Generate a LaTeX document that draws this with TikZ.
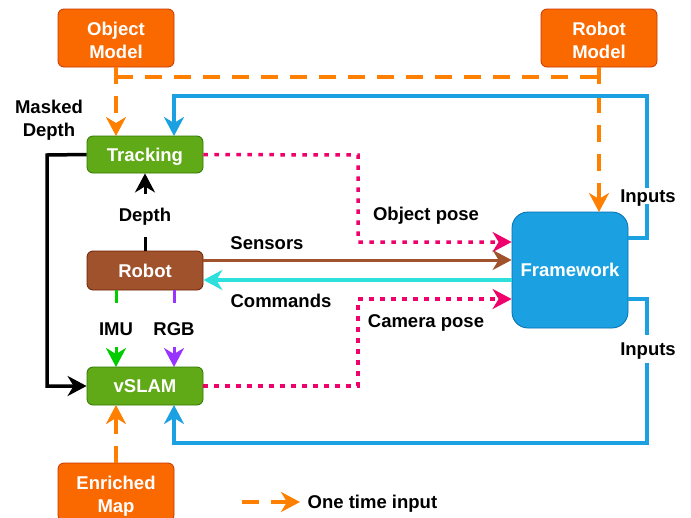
\documentclass[tikz,border=0pt]{standalone}
\usepackage{fontspec}
\setmainfont{Liberation Sans}
\usetikzlibrary{arrows.meta}
\definecolor{orfill}{HTML}{FA6800}
\definecolor{ordraw}{HTML}{C73500}
\definecolor{grfill}{HTML}{60A917}
\definecolor{grdraw}{HTML}{2D7600}
\definecolor{brfill}{HTML}{A0522D}
\definecolor{brdraw}{HTML}{6D1F00}
\definecolor{blfill}{HTML}{1BA1E2}
\definecolor{bldraw}{HTML}{006EAF}
\definecolor{oredge}{HTML}{FF8000}
\definecolor{pkedge}{HTML}{F0006B}
\definecolor{cyedge}{HTML}{2EE0DC}
\definecolor{gnedge}{HTML}{00CC00}
\definecolor{puedge}{HTML}{9933FF}
\begin{document}
\begin{tikzpicture}[x=1pt,y=-1pt,
  box/.style={draw, line width=0.8pt, rounded corners=6pt, minimum width=116pt,
    text=white, font=\fontsize{18.5}{23}\selectfont\bfseries, align=center, inner sep=0pt, text depth=0pt},
  orbox/.style={box, fill=orfill, draw=ordraw, minimum height=58pt, text height=40.5pt},
  grbox/.style={box, fill=grfill, draw=grdraw, minimum height=38pt},
  brbox/.style={box, fill=brfill, draw=brdraw, minimum height=39pt},
  lbl/.style={font=\fontsize{18.5}{23}\selectfont\bfseries, text=black, align=center, inner sep=1.5pt, text depth=0pt},
  wlbl/.style={lbl, fill=white},
  tipA/.tip={Stealth[length=19pt,width=20pt,inset=6pt]},
  edge/.style={line width=3.5pt, -tipA},
  oedge/.style={edge, draw=oredge, dash pattern=on 17pt off 12pt},
  bedge/.style={edge, draw=blfill},
  pedge/.style={edge, draw=pkedge, dash pattern=on 4.5pt off 6.5pt},
]
\useasboundingbox (0,0) rectangle (691,517);

% nodes
\node[orbox] (om) at (116,38) {Object\\Model};
\node[orbox] (rm) at (599,38) {Robot\\Model};
\node[grbox, minimum height=37pt] (tr) at (145,154.5) {Tracking};
\node[brbox] (rb) at (145,270.5) {Robot};
\node[grbox] (vs) at (145,386) {vSLAM};
\node[orbox] (em) at (116,492) {Enriched\\Map};
\node[box, fill=blfill, draw=bldraw, minimum width=116pt, minimum height=116pt, rounded corners=16pt] (fw) at (570,270) {Framework};

% helper coordinates
\coordinate (oj) at (116,77);
\coordinate (rj) at (599,77);
\coordinate (trTopL) at (116,136);
\coordinate (trTopR) at (174,136);
\coordinate (fwTop) at (599,212);
\coordinate (b1) at (647,238);
\coordinate (b2) at (647,96);
\coordinate (b3) at (174,96);
\coordinate (b4) at (647,299);
\coordinate (b5) at (647,443);
\coordinate (b6) at (174,443);
\coordinate (vsBotR) at (174,405);
\coordinate (vsBotL) at (116,405);
\coordinate (p1) at (358,155);
\coordinate (p2) at (358,242);
\coordinate (p3) at (358,386);
\coordinate (p4) at (358,299);
\coordinate (k1) at (47,155);
\coordinate (k2) at (47,386);
\coordinate (rbBotL) at (116,290);
\coordinate (rbBotR) at (174,290);
\coordinate (vsTopL) at (116,367);
\coordinate (vsTopR) at (174,367);
\coordinate (l1) at (242,502);
\coordinate (l2) at (300,502);

% orange one-time inputs
\draw[oedge,-] (oj) -- (rj);
\draw[oedge] (om.south) -- (trTopL);
\draw[oedge] (rm.south) -- (fwTop);
\draw[oedge] (em.north) -- (vsBotL);

% blue inputs
\draw[bedge] (fw.east |- b1) -- (b1) -- (b2) -- (b3) -- (trTopR);
\draw[bedge] (fw.east |- b4) -- (b4) -- (b5) -- (b6) -- (vsBotR);

% pink poses
\draw[pedge] (tr.east) -- (p1) -- (p2) -- (fw.west |- p2);
\draw[pedge] (vs.east) -- (p3) -- (p4) -- (fw.west |- p4);

% sensors / commands
\draw[edge, draw=brfill, line width=3pt] (rb.east |- 0,260) -- (fw.west |- 0,260);
\draw[edge, draw=cyedge] (fw.west |- 0,280) -- (rb.east |- 0,280);

% masked depth
\draw[edge, draw=black] (tr.west) -- (k1) -- (k2) -- (vs.west);
% depth
\draw[edge, draw=black, line width=3pt] (rb.north) -- (tr.south);
% IMU / RGB
\draw[edge, draw=gnedge, line width=3pt] (rbBotL) -- (vsTopL);
\draw[edge, draw=puedge, line width=3pt] (rbBotR) -- (vsTopR);

% labels
\node[lbl] (lmd) at (49,118) {Masked\\Depth};
\node[wlbl, minimum height=43pt] (ldp) at (145,215) {Depth};
\node[wlbl, minimum height=44pt, text height=21pt] (limu) at (116,325) {IMU};
\node[wlbl, minimum height=44pt, text height=21pt] (lrgb) at (174,325) {RGB};
\node[lbl] (lop) at (426,214) {Object pose};
\node[lbl] (lcp) at (426,321) {Camera pose};
\node[lbl] (lse) at (267,243) {Sensors};
\node[lbl] (lco) at (281,301) {Commands};
\node[wlbl] (lin1) at (648,196) {Inputs};
\node[wlbl, minimum height=28pt] (lin2) at (648,349) {Inputs};

% legend
\draw[oedge] (l1) -- (l2);
\node[lbl, anchor=west] (lleg) at (306,502) {One time input};
\end{tikzpicture}
\end{document}
